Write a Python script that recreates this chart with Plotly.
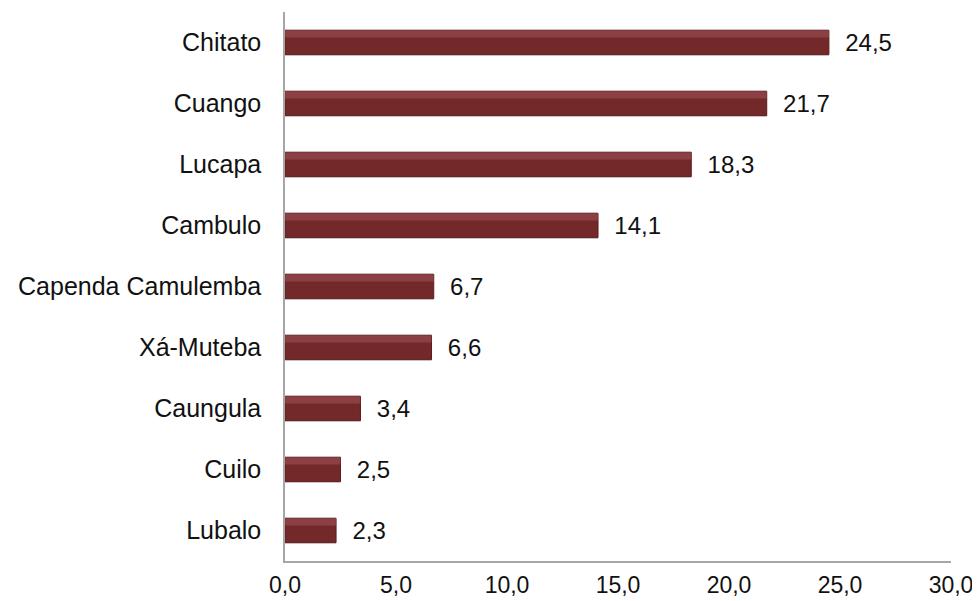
import plotly.graph_objects as go

categories = ["Chitato", "Cuango", "Lucapa", "Cambulo", "Capenda Camulemba",
              "Xá-Muteba", "Caungula", "Cuilo", "Lubalo"]
values = [24.5, 21.7, 18.3, 14.1, 6.7, 6.6, 3.4, 2.5, 2.3]
x_ticks = [0, 5, 10, 15, 20, 25, 30]

labels = ["  " + f"{v:.1f}".replace(".", ",") for v in values]

fig = go.Figure()
# shadow
fig.add_trace(go.Bar(
    y=categories, x=values, orientation="h", width=0.44,
    marker=dict(color="rgba(0,0,0,0.10)", line=dict(width=0)),
    hoverinfo="skip", showlegend=False,
))
# main bar
fig.add_trace(go.Bar(
    y=categories, x=values, orientation="h", width=0.40,
    marker=dict(color="#73282A", line=dict(color="#5C1C1E", width=1)),
    text=labels, textposition="outside", cliponaxis=False,
    constraintext="none",
    textfont=dict(family="Liberation Sans, Arial", size=24, color="#111111"),
    showlegend=False,
))
# highlight band
fig.add_trace(go.Bar(
    y=categories, x=values, orientation="h", width=0.12,
    marker=dict(color="rgba(190,110,115,0.35)", line=dict(width=0)),
    hoverinfo="skip", showlegend=False, offset=0.08,
))

fig.update_layout(
    width=972, height=593,
    margin=dict(l=277, r=29, t=4, b=40),
    paper_bgcolor="white", plot_bgcolor="white",
    barmode="overlay", separators=",.",
    font=dict(family="Liberation Sans, Arial", size=24, color="#111111"),
)
fig.update_xaxes(
    range=[0, 30], tickvals=x_ticks, tickformat=".1f",
    showgrid=False, zeroline=False, showline=True, linecolor="#A6A6A6",
    linewidth=1.5, ticks="", ticklabelstandoff=3, automargin=False,
    tickfont=dict(size=23),
)
fig.update_yaxes(
    categoryorder="array", categoryarray=categories[::-1],
    showgrid=False, zeroline=False, showline=True, linecolor="#A6A6A6",
    linewidth=1.5, ticks="", ticklabelstandoff=17, automargin=False,
    tickfont=dict(size=25),
)

fig.write_html("out.html")
